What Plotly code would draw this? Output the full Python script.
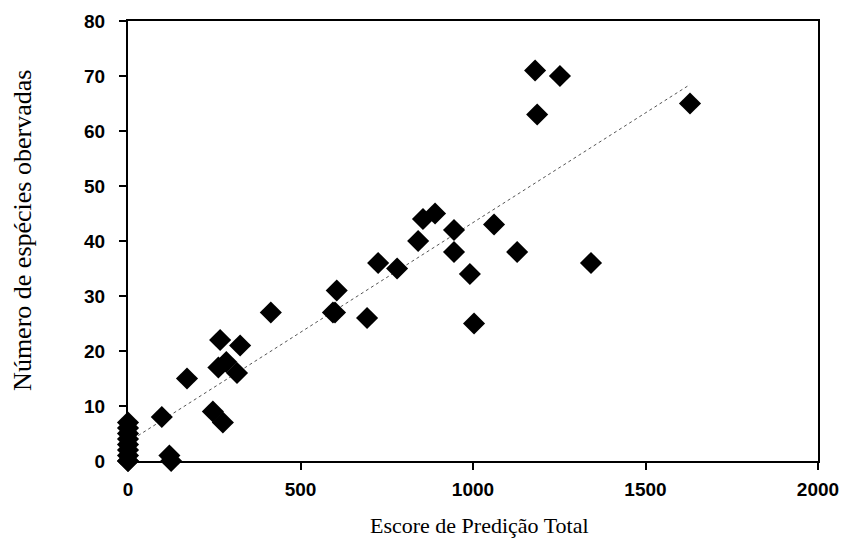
import numpy as np
import plotly.graph_objects as go

# Escore de Predição Total (x) vs Número de espécies observadas (y)
escore = [0, 0, 0, 0, 0, 0, 0, 0, 0,
          120, 125, 98, 246, 275, 171, 262, 285, 316, 267, 325,
          414, 594, 600, 605, 693, 725, 780,
          841, 855, 890, 945, 945, 991, 1003, 1061, 1128, 1342,
          1180, 1252, 1186, 1629]
especies = [0, 0, 1, 2, 3, 4, 5, 6, 7,
            1, 0, 8, 9, 7, 15, 17, 18, 16, 22, 21,
            27, 27, 27, 31, 26, 36, 35,
            40, 44, 45, 42, 38, 34, 25, 43, 38, 36,
            71, 70, 63, 65]

x_ticks = [0, 500, 1000, 1500, 2000]
y_ticks = [0, 10, 20, 30, 40, 50, 60, 70, 80]

x_title = "Escore de Predição Total"
y_title = "Número de espécies obervadas"

x_arr = np.array(escore, dtype=float)
y_arr = np.array(especies, dtype=float)
slope, intercept = np.polyfit(x_arr, y_arr, 1)
fit_x = np.array([x_arr.min(), x_arr.max()])
fit_y = slope * fit_x + intercept

fig = go.Figure()
fig.add_trace(go.Scatter(
    x=fit_x, y=fit_y, mode="lines",
    line=dict(color="#555555", width=1, dash="dot"),
    hoverinfo="skip", showlegend=False,
))
fig.add_trace(go.Scatter(
    x=escore, y=especies, mode="markers",
    marker=dict(symbol="diamond", size=17, color="black", line=dict(width=0)),
    cliponaxis=False, showlegend=False,
))

tickfont = dict(family="Liberation Sans, Arial", size=19, color="black", weight="bold")

fig.update_layout(
    width=843, height=540,
    margin=dict(l=128, r=25, t=21, b=79, autoexpand=False),
    paper_bgcolor="white", plot_bgcolor="white",
    showlegend=False,
    annotations=[
        dict(text=x_title, xref="paper", yref="paper", x=0.51, y=0,
             xanchor="center", yanchor="middle", yshift=-64, showarrow=False,
             font=dict(family="Liberation Serif, Times New Roman", size=22, color="black")),
        dict(text=y_title, xref="paper", yref="paper", x=0, y=0.523,
             xanchor="center", yanchor="middle", xshift=-105, textangle=-90, showarrow=False,
             font=dict(family="Liberation Serif, Times New Roman", size=26, color="black")),
    ],
)
fig.update_xaxes(
    range=[0, 2000], tickvals=x_ticks, ticktext=[str(v) for v in x_ticks],
    showgrid=False, zeroline=False, automargin=False,
    showline=True, linecolor="black", linewidth=2, mirror=True,
    ticks="outside", ticklen=7, tickwidth=1.5, tickcolor="black",
    tickfont=tickfont, ticklabelstandoff=3,
)
fig.update_yaxes(
    range=[0, 80], tickvals=y_ticks, ticktext=[str(v) for v in y_ticks],
    showgrid=False, zeroline=False, automargin=False,
    showline=True, linecolor="black", linewidth=2, mirror=True,
    ticks="outside", ticklen=7, tickwidth=1.5, tickcolor="black",
    tickfont=tickfont, ticklabelstandoff=10,
)

fig.write_html("out.html", config={"displayModeBar": False},
               post_script="document.body.style.margin='0px';")
